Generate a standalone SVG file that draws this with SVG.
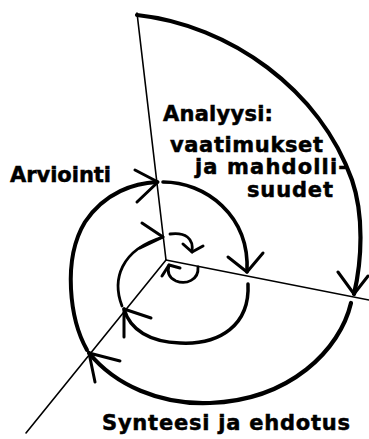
<svg xmlns="http://www.w3.org/2000/svg" width="369" height="439" viewBox="0 0 369 439">
<style>
.lbl{font-family:"DejaVu Sans","Liberation Sans",sans-serif;font-weight:bold;font-size:21px;fill:#000;stroke:#000;stroke-width:0.5}
.ray{stroke:#000;stroke-width:1.6;fill:none;stroke-linecap:round}
.sp{stroke:#000;fill:none;stroke-linecap:round;stroke-linejoin:round}
.ah{stroke:#000;fill:none;stroke-width:3;stroke-linecap:round;stroke-linejoin:round}
</style>
<rect width="369" height="439" fill="#fff"/>
<g id="connectors">
<path class="ray" d="M137,13 L166,260"/>
<path class="ray" d="M166,260 L369,300"/>
<path class="ray" d="M166,260 L26,433"/>
<path class="sp" stroke-width="4.2" d="M137,15 C230,25 320,90 352,180 C364,215 362,260 354,294"/>
<path class="ah" d="M338,272 L354,294 L368,276"/>
<path class="sp" stroke-width="4.2" d="M351,303 C340,350 290,400 210,403 C160,405 115,385 89,353"/>
<path class="ah" d="M120,361 L89,353 L95,382"/>
<path class="sp" stroke-width="4" d="M87,350 C70,320 62,260 85,222 C105,192 135,183 157,182"/>
<path class="ah" stroke-width="2.6" d="M135,170 L158,182 L137,202"/>
<path class="sp" stroke-width="3.6" d="M163,182 C205,182 250,215 247,272"/>
<path class="ah" d="M228,257 L247,272 L263,253"/>
<path class="sp" stroke-width="3.5" d="M248,284 C250,325 220,345 180,343 C150,342 130,330 124,309"/>
<path class="ah" d="M151,318 L124,309 L124,337"/>
<path class="sp" stroke-width="2.8" d="M122,306 C112,280 120,250 163,237"/>
<path class="ah" stroke-width="2.6" d="M142,223 L163,237 L140,248"/>
<path class="sp" stroke-width="2.8" d="M170,234 C185,232 194,238 192,252"/>
<path class="ah" stroke-width="2.6" d="M183,244 L192,252 L203,246"/>
<path class="sp" stroke-width="2.8" d="M198,267 C199,280 186,285 176,281 C169,278 167,272 169,265"/>
<path class="ah" stroke-width="2.6" d="M162,276 L169,265 L180,268"/>
</g>
<g id="analyysi">
<text class="lbl" x="163" y="121" textLength="110">Analyysi:</text>
<text class="lbl" x="170" y="152" textLength="153">vaatimukset</text>
<text class="lbl" x="195" y="174" textLength="152">ja mahdolli-</text>
<text class="lbl" x="247" y="197" textLength="86">suudet</text>
</g>
<g id="arviointi">
<text class="lbl" x="10" y="182" textLength="101">Arviointi</text>
</g>
<g id="synteesi">
<text class="lbl" x="102" y="430" textLength="248">Synteesi ja ehdotus</text>
</g>
</svg>
